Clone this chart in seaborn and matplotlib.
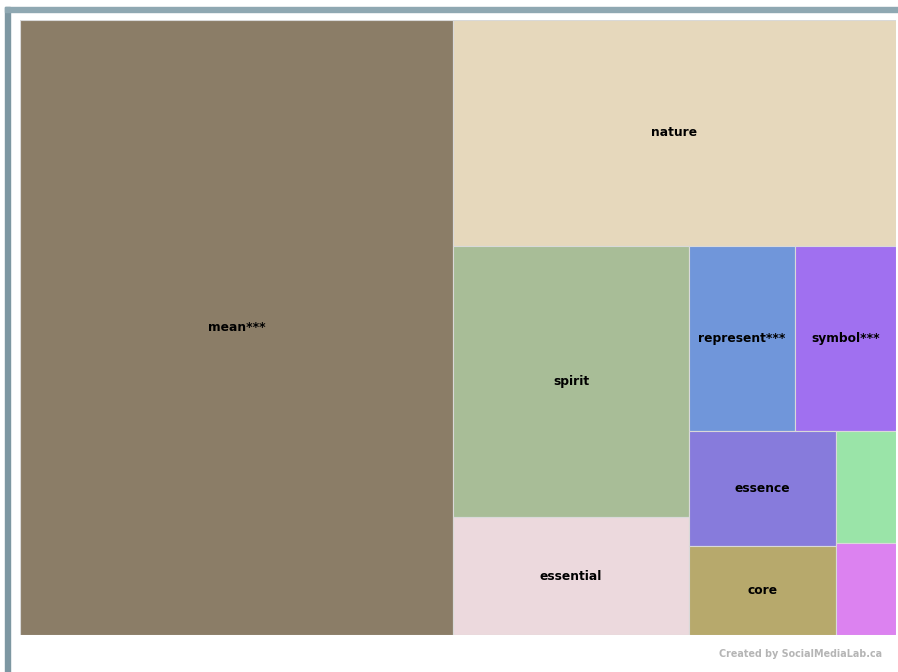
import matplotlib
matplotlib.use("Agg")
import matplotlib.pyplot as plt
import seaborn as sns
from matplotlib.patches import Rectangle

# word weights
words = ["mean***", "nature", "spirit", "essential", "represent***",
         "symbol***", "essence", "core", "", ""]
weights = [266.3, 100.1, 64.0, 27.8, 19.6, 18.7, 16.9, 13.1, 6.7, 5.5]
colors = ["#8b7d67", "#e6d8bc", "#a8bd97", "#ecd9dd", "#7096da",
          "#a070f0", "#877bdc", "#b7a96c", "#9ae4a8", "#dc82f0"]


def worst(row, side):
    s = sum(row)
    return max(max(side * side * r / (s * s), s * s / (side * side * r)) for r in row)


def squarify(areas, x, y, w, h):
    rects = []
    areas = list(areas)
    while areas:
        side = min(w, h)
        row = [areas.pop(0)]
        while areas and worst(row + [areas[0]], side) <= worst(row, side):
            row.append(areas.pop(0))
        s = sum(row)
        if w >= h:
            # column on the left
            cw = s / h
            yy = y
            for r in row:
                rects.append((x, yy, cw, r / cw))
                yy += r / cw
            x += cw
            w -= cw
        else:
            # row along the top
            rh = s / w
            xx = x
            for r in row:
                rects.append((xx, y, r / rh, rh))
                xx += r / rh
            y += rh
            h -= rh
    return rects


sns.set_theme(style="white")
plt.rcParams['font.family'] = ['DejaVu Sans']

W, H = 876.0, 615.0
total = sum(weights)
areas = [v / total * W * H for v in weights]
rects = squarify(areas, 0, 0, W, H)

fig = plt.figure(figsize=(8.98, 6.72), dpi=100)
fig.patch.set_facecolor("white")

# frame bars at top and left
fig.patches.append(Rectangle((5 / 898, 0), 5 / 898, 665 / 672, transform=fig.transFigure,
                             color="#7d97a2", zorder=0))
fig.patches.append(Rectangle((5 / 898, 660 / 672), 893 / 898, 5 / 672, transform=fig.transFigure,
                             color="#8fa8b2", zorder=0))

ax = fig.add_axes([20 / 898, 37 / 672, 876 / 898, 615 / 672])
for (rx, ry, rw, rh), c, lab in zip(rects, colors, words):
    ax.bar(rx, rh, width=rw, bottom=ry, align="edge", color=c,
           edgecolor="#d9d9d9", linewidth=0.8)
    if lab:
        ax.text(rx + rw / 2, ry + rh / 2, lab, ha="center", va="center",
                fontsize=8.8, fontweight="bold", color="black")

ax.set_xlim(0, W)
ax.set_ylim(H, 0)
ax.axis("off")

fig.text(882 / 898, 1 - 654 / 672, "Created by SocialMediaLab.ca", ha="right", va="center",
         fontsize=6.9, fontweight="bold", color="#b5b5b5")

fig.savefig("out.png", dpi=100)
